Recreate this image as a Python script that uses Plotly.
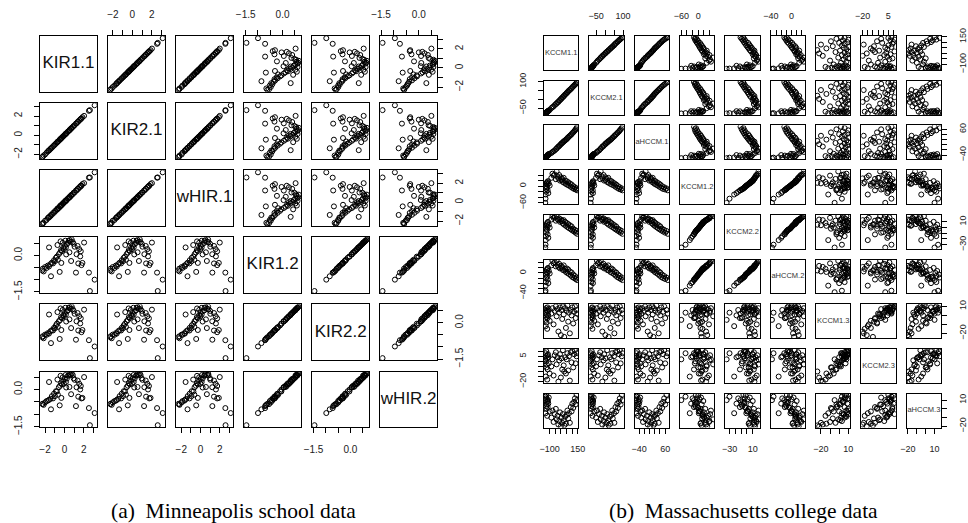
import plotly.graph_objects as go

W, H = 968, 523

# ---------------- Minneapolis school data (6 measures) ----------------
mpls_names = ["KIR1.1", "KIR2.1", "wHIR.1", "KIR1.2", "KIR2.2", "wHIR.2"]

kir1_1 = [-2.29, -2.25, -2.15, -2.00, -1.85, -1.72, -1.60, -1.59, -1.45, -1.39,
          -1.30, -1.18, -1.08, -0.98, -0.88, -0.78, -0.72, -0.68, -0.58, -0.49,
          -0.45, -0.40, -0.35, -0.32, -0.25, -0.18, -0.12, -0.05, 0.05, 0.10,
          0.15, 0.18, 0.25, 0.35, 0.45, 0.52, 0.55, 0.65, 0.69, 0.75,
          0.86, 0.95, 1.05, 1.19, 1.25, 1.36, 1.43, 1.53, 1.63, 1.69,
          1.76, 1.86, 2.03, 2.53, 2.63, 3.12]
kir2_1 = [-2.27, -2.26, -2.13, -2.02, -1.84, -1.70, -1.61, -1.57, -1.46, -1.37,
          -1.31, -1.16, -1.09, -0.96, -0.89, -0.76, -0.73, -0.66, -0.59, -0.47,
          -0.46, -0.38, -0.36, -0.30, -0.26, -0.16, -0.13, -0.03, 0.04, 0.12,
          0.14, 0.20, 0.24, 0.37, 0.44, 0.54, 0.54, 0.67, 0.68, 0.77,
          0.85, 0.97, 1.04, 1.21, 1.24, 1.38, 1.42, 1.55, 1.62, 1.71,
          1.75, 1.88, 2.02, 2.55, 2.62, 3.13]
whir_1 = [-2.30, -2.22, -2.18, -1.96, -1.88, -1.68, -1.63, -1.55, -1.48, -1.35,
          -1.33, -1.14, -1.12, -0.94, -0.91, -0.74, -0.76, -0.64, -0.62, -0.45,
          -0.48, -0.36, -0.38, -0.28, -0.28, -0.14, -0.15, -0.01, 0.02, 0.14,
          0.12, 0.22, 0.22, 0.39, 0.42, 0.56, 0.52, 0.69, 0.66, 0.79,
          0.83, 0.99, 1.02, 1.23, 1.22, 1.40, 1.40, 1.57, 1.60, 1.73,
          1.73, 1.90, 2.00, 2.58, 2.60, 3.14]
kir1_2 = [-0.62, -0.55, -0.66, -0.48, -0.52, -0.42, -0.46, 0.33, -0.36, -0.86,
          -0.30, -0.33, -0.20, -0.24, -0.10, -0.05, 0.43, -0.18, 0.05, -0.68,
          0.12, 0.58, 0.22, -0.31, 0.18, 0.52, 0.32, 0.26, 0.40, 0.61,
          0.33, 0.04, 0.46, 0.52, 0.60, 0.13, 0.64, 0.56, -0.23, 0.66,
          0.55, 0.48, 0.36, -0.71, 0.05, 0.39, -0.33, 0.26, -0.04, 0.17,
          -0.40, -0.31, 0.53, -0.71, -1.47, -1.00]
kir2_2 = [-0.60, -0.56, -0.64, -0.49, -0.50, -0.43, -0.45, 0.34, -0.35, -0.84,
          -0.31, -0.32, -0.21, -0.23, -0.11, -0.04, 0.44, -0.17, 0.06, -0.67,
          0.11, 0.59, 0.23, -0.30, 0.19, 0.53, 0.31, 0.27, 0.41, 0.62,
          0.34, 0.05, 0.47, 0.51, 0.61, 0.14, 0.65, 0.57, -0.22, 0.67,
          0.56, 0.49, 0.37, -0.70, 0.06, 0.40, -0.32, 0.27, -0.03, 0.18,
          -0.39, -0.30, 0.54, -0.72, -1.46, -0.98]
whir_2 = [-0.58, -0.59, -0.62, -0.52, -0.47, -0.45, -0.42, 0.30, -0.38, -0.80,
          -0.27, -0.36, -0.17, -0.27, -0.07, -0.08, 0.40, -0.21, 0.09, -0.64,
          0.15, 0.55, 0.25, -0.34, 0.21, 0.49, 0.35, 0.23, 0.43, 0.58,
          0.30, 0.08, 0.44, 0.55, 0.57, 0.10, 0.62, 0.59, -0.19, 0.64,
          0.58, 0.45, 0.39, -0.67, 0.09, 0.36, -0.29, 0.23, 0.00, 0.14,
          -0.36, -0.34, 0.50, -0.75, -1.44, -0.95]

mpls_ticks_1 = ([-2, -1, 0, 1, 2, 3], ["\u22122", "", "0", "", "2", ""])
mpls_ticks_2 = ([-1.5, -1.0, -0.5, 0.0, 0.5], ["\u22121.5", "", "", "0.0", ""])

# ---------------- Massachusetts college data (9 measures) ----------------
mass_names = ["KCCM1.1", "KCCM2.1", "aHCCM.1", "KCCM1.2", "KCCM2.2", "aHCCM.2",
              "KCCM1.3", "KCCM2.3", "aHCCM.3"]

kccm1_1 = [-139, -137, -135, -133, -131, -130, -128, -126, -124, -122,
           -120, -118, -115, -112, -108, -100, -85, -75, -65, -55,
           -45, -38, -30, -22, -15, -8, 0, 5, 12, 18,
           25, 30, 38, 45, 52, 58, 65, 72, 80, 88,
           95, 102, 110, 118, 125, 132, 140, 145]
kccm2_1 = [-80, -78, -79, -76, -77, -74, -75, -72, -73, -70,
           -71, -68, -66, -67, -63, -60, -50, -45, -40, -33,
           -27, -24, -17, -15, -8, -5, 2, 3, 10, 12,
           18, 20, 27, 30, 35, 40, 43, 50, 52, 58,
           62, 68, 72, 78, 82, 87, 93, 97]
ahccm_1 = [-52, -50, -49, -51, -47, -48, -45, -46, -43, -44,
           -41, -42, -38, -40, -36, -35, -32, -28, -25, -22,
           -17, -15, -10, -7, -5, -1, 2, 5, 7, 10,
           12, 15, 17, 20, 22, 26, 28, 32, 35, 38,
           41, 45, 48, 52, 56, 60, 65, 70]
kccm1_2 = [-60, -45, -30, -20, -10, 0, 8, 12, -5, 15,
           5, -15, 18, -25, 10, 2, 30, 45, 38, 42,
           25, 53, 35, 28, 40, 20, 32, 22, 26, 15,
           30, 12, 20, 8, 18, 5, 14, 2, 10, -2,
           6, -6, 0, -10, -4, -12, -8, -15]
kccm2_2 = [-35, -30, -22, -15, -8, -2, 3, 6, -4, 8,
           1, -12, 10, -18, 5, 0, 14, 20, 17, 18,
           12, 20, 15, 13, 16, 10, 14, 11, 12, 7,
           13, 5, 10, 3, 8, 1, 6, -1, 4, -3,
           2, -5, -2, -7, -4, -9, -6, -11]
ahccm_2 = [-38, -35, -25, -18, -10, -3, 2, 6, -7, 8,
           0, -13, 10, -20, 4, -1, 15, 24, 19, 21,
           13, 24, 16, 12, 18, 9, 14, 10, 12, 6,
           15, 5, 8, 2, 9, 0, 7, -2, 3, -5,
           1, -8, -3, -10, -6, -12, -9, -14]
kccm1_3 = [-5, 3, -12, 6, -2, 8, -8, 1, 5, -15,
           9, -3, 4, 0, 7, -6, 2, 8, -10, 5,
           10, -1, 7, -18, 3, 9, -22, 6, -4, 10,
           1, -24, 8, -14, 5, 11, -7, 3, -20, 6,
           0, 9, -9, 4, 10, -3, 6, 2]
kccm2_3 = [2, 8, -15, 5, 0, 10, -6, -3, 3, -18,
           6, -8, 7, 4, -2, -12, -5, 2, -14, 6,
           9, -3, 4, -20, 1, 7, -16, 3, -8, 11,
           -4, -10, 4, -12, 2, 8, -9, 5, -19, 9,
           -1, 10, -6, 7, 11, -2, 5, 8]
ahccm_3 = [10, 14, -5, 12, 3, 15, 0, 5, 8, -8,
           11, 2, 9, 6, 13, -3, -10, -2, -15, -6,
           0, -12, -8, -18, -14, -4, -20, -10, -16, -6,
           -13, -19, -9, -17, -7, -2, -11, -5, -16, 2,
           -3, 6, 1, 8, 12, 5, 16, 10]

mass_ticks = [
    ([-100, -50, 0, 50, 100, 150], ["\u2212100", "", "", "", "", "150"]),
    ([-50, 0, 50, 100], ["\u221250", "", "", "100"]),
    ([-40, -20, 0, 20, 40, 60], ["\u221240", "", "", "", "", "60"]),
    ([-60, -40, -20, 0, 20, 40], ["\u221260", "", "", "0", "", ""]),
    ([-30, -20, -10, 0, 10], ["\u221230", "", "", "", "10"]),
    ([-40, -30, -20, -10, 0, 10, 20], ["\u221240", "", "", "", "0", "", ""]),
    ([-20, -10, 0, 10], ["\u221220", "", "", "10"]),
    ([-20, -15, -10, -5, 0, 5, 10], ["\u221220", "", "", "", "", "5", ""]),
    ([-20, -10, 0, 10], ["\u221220", "", "", "10"]),
]

SANS = "Liberation Sans, Arial, Helvetica, sans-serif"
SERIF = "Liberation Serif, Times New Roman, serif"

fig = go.Figure()
layout_axes = {}
annotations = []
counter = [0]


def padded(values):
    lo, hi = min(values), max(values)
    span = hi - lo
    return [lo - 0.04 * span, hi + 0.04 * span]


def add_pairs(data, names, ticks, x0, y0, pitch, size, name_size, name_color,
              tick_size, marker_size):
    n = len(data)
    ranges = [padded(v) for v in data]
    tick_style = dict(ticks="outside", ticklen=5, tickwidth=1, tickcolor="black",
                      showticklabels=True, ticklabelstandoff=8,
                      tickfont=dict(family=SANS, size=tick_size, color="#222"))
    for i in range(n):
        for j in range(n):
            counter[0] += 1
            k = counter[0]
            sfx = "" if k == 1 else str(k)
            left = x0 + j * pitch
            top = y0 + i * pitch
            base = dict(showline=True, mirror=True, linecolor="black", linewidth=1,
                        showgrid=False, zeroline=False, ticks="",
                        showticklabels=False, fixedrange=True)
            xa = dict(base, domain=[left / W, (left + size) / W],
                      range=ranges[j], anchor="y" + sfx)
            ya = dict(base, domain=[1 - (top + size) / H, 1 - top / H],
                      range=ranges[i], anchor="x" + sfx)
            if i == 0 and j % 2 == 1:
                xa.update(tick_style, side="top", tickvals=ticks[j][0], ticktext=ticks[j][1])
            if i == n - 1 and j % 2 == 0:
                xa.update(tick_style, side="bottom", tickvals=ticks[j][0], ticktext=ticks[j][1])
            if j == 0 and i % 2 == 1:
                ya.update(tick_style, side="left", tickangle=-90,
                          tickvals=ticks[i][0], ticktext=ticks[i][1])
            if j == n - 1 and i % 2 == 0:
                ya.update(tick_style, side="right", tickangle=-90,
                          tickvals=ticks[i][0], ticktext=ticks[i][1])
            layout_axes["xaxis" + sfx] = xa
            layout_axes["yaxis" + sfx] = ya
            if i == j:
                # variable name written at the centre of its diagonal panel
                mid = sum(ranges[i]) / 2
                fig.add_trace(go.Scatter(
                    x=[mid], y=[mid], xaxis="x" + sfx, yaxis="y" + sfx,
                    mode="text", text=[names[i]], textposition="middle center",
                    hoverinfo="skip",
                    textfont=dict(family=SANS, size=name_size, color=name_color)))
            else:
                fig.add_trace(go.Scatter(
                    x=data[j], y=data[i], xaxis="x" + sfx, yaxis="y" + sfx,
                    mode="markers", hoverinfo="skip",
                    marker=dict(symbol="circle-open", size=marker_size, color="black",
                                line=dict(width=1, color="black"))))


add_pairs([kir1_1, kir2_1, whir_1, kir1_2, kir2_2, whir_2], mpls_names,
          [mpls_ticks_1] * 3 + [mpls_ticks_2] * 3,
          x0=31.7, y0=29.0, pitch=69.2, size=57.5,
          name_size=17, name_color="#111", tick_size=10, marker_size=5)

add_pairs([kccm1_1, kccm2_1, ahccm_1, kccm1_2, kccm2_2, ahccm_2, kccm1_3, kccm2_3, ahccm_3],
          mass_names, mass_ticks,
          x0=544.0, y0=29.0, pitch=46.1, size=35.0,
          name_size=7.5, name_color="#333", tick_size=9, marker_size=5)

annotations.append(dict(text="(a)\u2002Minneapolis school data", xref="paper", yref="paper",
                        x=228 / W, y=1 - 519 / H, xanchor="center", yanchor="middle",
                        showarrow=False, font=dict(family=SERIF, size=21.5, color="black")))
annotations.append(dict(text="(b)\u2002Massachusetts college data", xref="paper", yref="paper",
                        x=746.5 / W, y=1 - 519 / H, xanchor="center", yanchor="middle",
                        showarrow=False, font=dict(family=SERIF, size=21.5, color="black")))

fig.update_layout(
    width=W, height=H, margin=dict(l=0, r=0, t=0, b=0),
    paper_bgcolor="white", plot_bgcolor="white", showlegend=False,
    annotations=annotations, **layout_axes)

fig.write_html("out.html")
